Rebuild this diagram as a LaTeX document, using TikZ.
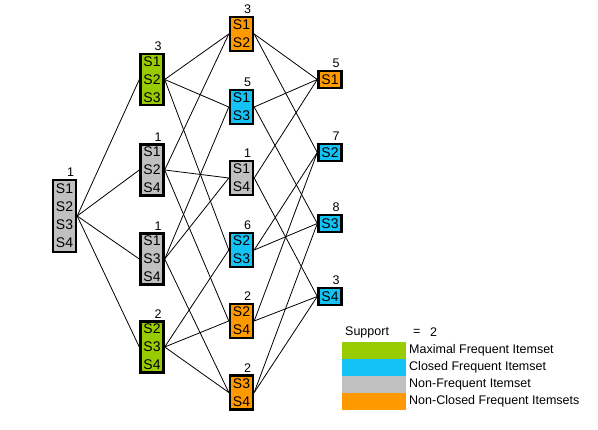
\documentclass[tikz,border=0pt]{standalone}
\usepackage{fontspec}
\setmainfont{Liberation Sans}
\definecolor{cgreen}{RGB}{153,204,0}
\definecolor{cblue}{RGB}{20,195,245}
\definecolor{cgray}{RGB}{192,192,192}
\definecolor{corange}{RGB}{255,153,0}
\tikzset{
  itembox/.style={draw=black, line width=2.4pt, inner sep=0pt, minimum width=23pt, align=center,
    font=\fontsize{14}{18}\selectfont},
  h4/.style={minimum height=72pt},
  h3/.style={minimum height=51pt},
  h2/.style={minimum height=34pt},
  h1/.style={minimum height=17pt},
  supp/.style={font=\fontsize{12.5}{14}\selectfont, inner sep=0pt, anchor=south east},
  conn/.style={draw=black, line width=0.8pt},
  swatch/.style={minimum width=64pt, minimum height=17pt, inner sep=0pt, anchor=north west},
  legtext/.style={font=\fontsize{12.5}{14}\selectfont, inner sep=0pt, anchor=west}
}
\begin{document}
\begin{tikzpicture}[x=1pt,y=-1pt]
\useasboundingbox (0,0) rectangle (598,430);
% column 0
\node[itembox,h4,fill=cgray] (n0) at (64.5,216) {S1\\S2\\S3\\S4};
% column 1
\node[itembox,h3,fill=cgreen] (a123) at (152,79.5) {S1\\S2\\S3};
\node[itembox,h3,fill=cgray] (a124) at (152,170) {S1\\S2\\S4};
\node[itembox,h3,fill=cgray] (a134) at (152,259) {S1\\S3\\S4};
\node[itembox,h3,fill=cgreen] (a234) at (152,347) {S2\\S3\\S4};
% column 2
\node[itembox,h2,fill=corange] (b12) at (241.5,34) {S1\\S2};
\node[itembox,h2,fill=cblue] (b13) at (241.5,107) {S1\\S3};
\node[itembox,h2,fill=cgray] (b14) at (241.5,178) {S1\\S4};
\node[itembox,h2,fill=cblue] (b23) at (241.5,250) {S2\\S3};
\node[itembox,h2,fill=corange] (b24) at (241.5,321) {S2\\S4};
\node[itembox,h2,fill=corange] (b34) at (241.5,392.5) {S3\\S4};
% column 3
\node[itembox,h1,fill=corange] (c1) at (330,79.5) {S1};
\node[itembox,h1,fill=cblue] (c2) at (330,152.5) {S2};
\node[itembox,h1,fill=cblue] (c3) at (330,223.5) {S3};
\node[itembox,h1,fill=cblue] (c4) at (330,296.5) {S4};
% support labels
\node[supp] (l0) at ([xshift=-3pt,yshift=2pt]n0.north east) {1};
\node[supp] (la123) at ([xshift=-3pt,yshift=2pt]a123.north east) {3};
\node[supp] (la124) at ([xshift=-3pt,yshift=2pt]a124.north east) {1};
\node[supp] (la134) at ([xshift=-3pt,yshift=2pt]a134.north east) {1};
\node[supp] (la234) at ([xshift=-3pt,yshift=2pt]a234.north east) {2};
\node[supp] (lb12) at ([xshift=-3pt,yshift=2pt]b12.north east) {3};
\node[supp] (lb13) at ([xshift=-3pt,yshift=2pt]b13.north east) {5};
\node[supp] (lb14) at ([xshift=-3pt,yshift=2pt]b14.north east) {1};
\node[supp] (lb23) at ([xshift=-3pt,yshift=2pt]b23.north east) {6};
\node[supp] (lb24) at ([xshift=-3pt,yshift=2pt]b24.north east) {2};
\node[supp] (lb34) at ([xshift=-3pt,yshift=2pt]b34.north east) {2};
\node[supp] (lc1) at ([xshift=-3pt,yshift=2pt]c1.north east) {5};
\node[supp] (lc2) at ([xshift=-3pt,yshift=2pt]c2.north east) {7};
\node[supp] (lc3) at ([xshift=-3pt,yshift=2pt]c3.north east) {8};
\node[supp] (lc4) at ([xshift=-3pt,yshift=2pt]c4.north east) {3};
% connectors column 0 -> 1
\foreach \t in {a123,a124,a134,a234} \draw[conn] (n0.east) -- (\t.west);
% column 1 -> 2
\draw[conn] (a123.east) -- (b12.west);
\draw[conn] (a123.east) -- (b13.west);
\draw[conn] (a123.east) -- (b23.west);
\draw[conn] (a124.east) -- (b12.west);
\draw[conn] (a124.east) -- (b14.west);
\draw[conn] (a124.east) -- (b24.west);
\draw[conn] (a134.east) -- (b13.west);
\draw[conn] (a134.east) -- (b14.west);
\draw[conn] (a134.east) -- (b34.west);
\draw[conn] (a234.east) -- (b23.west);
\draw[conn] (a234.east) -- (b24.west);
\draw[conn] (a234.east) -- (b34.west);
% column 2 -> 3
\draw[conn] (b12.east) -- (c1.west);
\draw[conn] (b12.east) -- (c2.west);
\draw[conn] (b13.east) -- (c1.west);
\draw[conn] (b13.east) -- (c3.west);
\draw[conn] (b14.east) -- (c1.west);
\draw[conn] (b14.east) -- (c4.west);
\draw[conn] (b23.east) -- (c2.west);
\draw[conn] (b23.east) -- (c3.west);
\draw[conn] (b24.east) -- (c2.west);
\draw[conn] (b24.east) -- (c4.west);
\draw[conn] (b34.east) -- (c3.west);
\draw[conn] (b34.east) -- (c4.west);
% legend
\node[legtext] (sup) at (345,332) {Support};
\node[legtext] (eq) at (413,332) {=};
\node[legtext] (two) at (430,332) {2};
\node[swatch,fill=cgreen] (sw1) at (342,342) {};
\node[swatch,fill=cblue] (sw2) at (342,359) {};
\node[swatch,fill=cgray] (sw3) at (342,376) {};
\node[swatch,fill=corange] (sw4) at (342,393) {};
\node[legtext] (t1) at (409,350.5) {Maximal Frequent Itemset};
\node[legtext] (t2) at (409,367.5) {Closed Frequent Itemset};
\node[legtext] (t3) at (409,384.5) {Non-Frequent Itemset};
\node[legtext] (t4) at (409,401.5) {Non-Closed Frequent Itemsets};
\end{tikzpicture}
\end{document}
